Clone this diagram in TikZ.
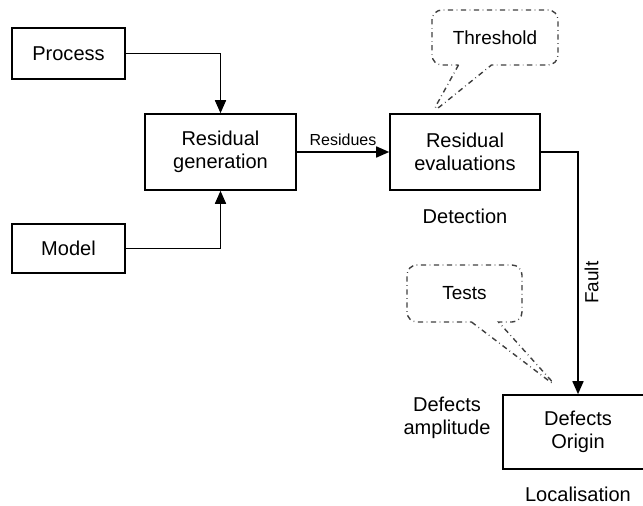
\documentclass[tikz,border=0pt]{standalone}
\usepackage{fontspec}
\setmainfont{Liberation Sans}
\usetikzlibrary{arrows.meta,shapes.callouts}
\tikzset{
  block/.style={draw,line width=0.9pt,align=center,font=\fontsize{11.4}{13}\selectfont},
  bubble/.style={rectangle callout,draw=black!75,dash dot,line width=0.8pt,rounded corners=0.2cm,
    font=\fontsize{10.8}{13}\selectfont},
  lbl/.style={align=center,font=\fontsize{11.4}{13}\selectfont},
  link/.style={line width=0.9pt,-{Triangle[length=0.26cm,width=0.22cm]}}
}
\begin{document}
\begin{tikzpicture}[x=0.02cm,y=-0.02cm]
        \useasboundingbox (0,0) rectangle (643,506);

        % Blocks
        \node[block,minimum width=2.26cm,minimum height=1.02cm] (process) at (68.5,53.5) {Process};
        \node[block,minimum width=2.26cm,minimum height=0.98cm] (model) at (68.5,248.5) {Model};
        \node[block,minimum width=3.02cm,minimum height=1.52cm] (rgen) at (220.5,152) {Residual\\generation};
        \node[block,minimum width=3.0cm,minimum height=1.52cm] (reval) at (465,152) {Residual\\evaluations};
        \node[block,minimum width=3.0cm,minimum height=1.48cm] (origin) at (578,432) {Defects\\Origin};

        % Labels
        \node[lbl] (detect) at (465,216) {Detection};
        \node[lbl] (local) at (578,494) {Localisation};
        \node[lbl] (amp) at (447,418) {Defects\\amplitude};

        % Connectors
        \draw[link] (process.east) -| (rgen.north);
        \draw[link] (model.east) -| (rgen.south);
        \draw[link] (rgen.east) -- node[above,font=\fontsize{9.1}{11}\selectfont]{Residues} (reval.west);
        \draw[link] (reval.east) -| node[pos=0.77,rotate=90,anchor=north,font=\fontsize{10.8}{13}\selectfont]{Fault} (origin.north);

        % Callouts
        \coordinate (thtip) at (432,113);
        \coordinate (tetip) at (557,387);
        \node[bubble,minimum width=2.52cm,minimum height=1.1cm,callout absolute pointer={(thtip)},
          callout pointer width=0.66cm] (thresh) at (495,37.5) {Threshold};
        \node[bubble,minimum width=2.3cm,minimum height=1.14cm,callout absolute pointer={(tetip)},
          callout pointer width=0.54cm] (tests) at (464.5,293.5) {Tests};
    \end{tikzpicture}
\end{document}
